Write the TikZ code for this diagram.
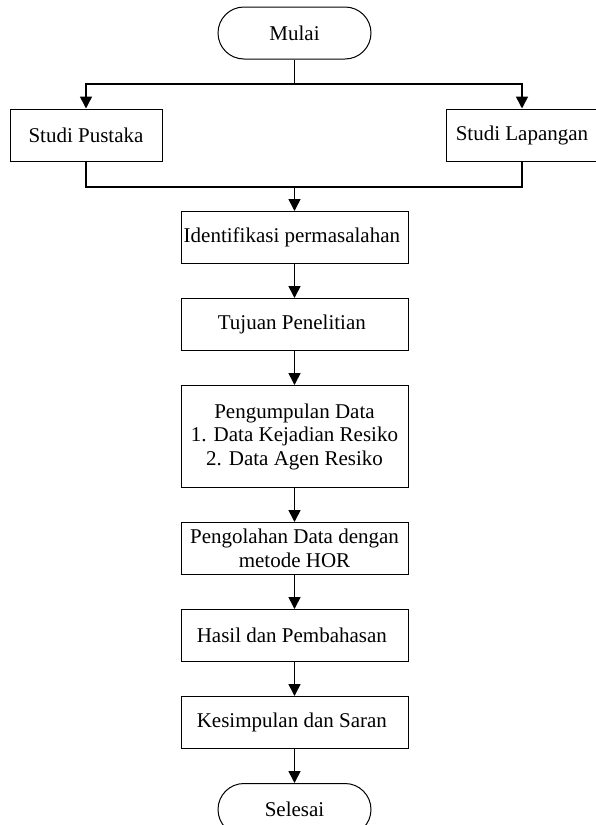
\documentclass[tikz,border=0pt]{standalone}
\usepackage{fontspec}
\setmainfont{Liberation Serif}
\usetikzlibrary{arrows.meta,positioning}

\begin{document}
\begin{tikzpicture}[x=1pt,y=1pt,>={Triangle[length=12pt,width=12pt]},node distance=34pt,
  every node/.style={font=\fontsize{21}{23.5}\selectfont},
  proses/.style={draw,line width=1pt,minimum width=227pt,minimum height=52pt,inner sep=2pt,align=center},
  studi/.style={draw,line width=1pt,minimum width=152pt,minimum height=52pt,inner sep=2pt},
  terminal/.style={draw,line width=1pt,rounded corners=26pt,minimum width=153pt,minimum height=52pt},
  garis/.style={line width=1.6pt}]

  \useasboundingbox (0,0) rectangle (595,-825);

  \node[terminal] (mulai)    at (294.5,-33)    { Mulai };
  \node[studi]    (pustaka)  at (86,-135)      { Studi Pustaka };
  \node[studi]    (lapangan) at (522,-135)     { Studi Lapangan };
  \node[proses]   (identifikasi) at (294.5,-237.5) { Identifikasi permasalahan };
  \node[proses]   (tujuan)   [below=of identifikasi] { Tujuan Penelitian };
  \node[proses,minimum height=102pt] (kumpul) [below=of tujuan]
        { Pengumpulan Data\\1. Data Kejadian Resiko\\2. Data Agen Resiko };
  \node[proses]   (olah)     [below=of kumpul]   { Pengolahan Data dengan\\metode HOR };
  \node[proses]   (hasil)    [below=of olah]     { Hasil dan Pembahasan };
  \node[proses]   (kesimpulan) [below=of hasil]  { Kesimpulan dan Saran };
  \node[terminal] (selesai)  [below=of kesimpulan] { Selesai };

  \coordinate (cabang) at (294.5,-84);
  \coordinate (gabung) at (294.5,-187);

  % percabangan ke studi
  \draw[garis] (mulai) -- (cabang);
  \draw[garis,->] (cabang) -| (pustaka);
  \draw[garis,->] (cabang) -| (lapangan);
  \draw[garis] (pustaka) |- (gabung);
  \draw[garis] (lapangan) |- (gabung);
  \draw[garis,->] (gabung) -- (identifikasi);

  \path[garis,->]
     (identifikasi) edge (tujuan)
     (tujuan)       edge (kumpul)
     (kumpul)       edge (olah)
     (olah)         edge (hasil)
     (hasil)        edge (kesimpulan)
     (kesimpulan)   edge (selesai);

\end{tikzpicture}
\end{document}
